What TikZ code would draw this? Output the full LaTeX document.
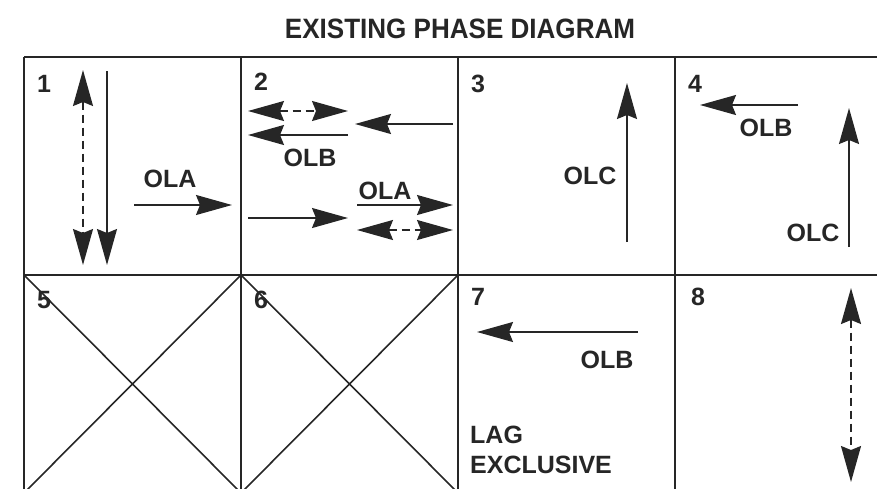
\documentclass[tikz,border=0pt]{standalone}
\usepackage{fontspec}
\setmainfont{Liberation Sans}
\usetikzlibrary{arrows.meta}
\begin{document}
\begin{tikzpicture}[x=1pt,y=-1pt,
  gridline/.style={line width=1.8pt,black!85},
  xline/.style={line width=1.6pt,black!85},
  tip/.tip={Stealth[length=36pt,width=20pt,inset=4pt]},
  arr/.style={line width=1.6pt,black!85,-tip},
  darr/.style={line width=1.6pt,black!85,dash pattern=on 8pt off 5pt,tip-tip},
  lbl/.style={inner sep=0pt,font=\bfseries\fontsize{25}{30}\selectfont,text=black!85},
  ttl/.style={inner sep=0pt,font=\bfseries\fontsize{28}{32}\selectfont,text=black!85,xscale=0.93,transform shape}]
\useasboundingbox (0,0) rectangle (877,488);
\clip (0,0) rectangle (877,488);
% title
\node[ttl,anchor=base] (title) at (460,38) {EXISTING PHASE DIAGRAM};
% grid
\draw[gridline] (24,57) -- (892,57);
\draw[gridline] (24,275) -- (892,275);
\draw[gridline] (24,493) -- (892,493);
\foreach \x in {24,241,458,675,892} \draw[gridline] (\x,57) -- (\x,493);
% crosses
\draw[xline] (24,275) -- (241,493) (241,275) -- (24,493);
\draw[xline] (241,275) -- (458,493) (458,275) -- (241,493);
% cell numbers
\node[lbl,anchor=base west] (n1) at (37,92) {1};
\node[lbl,anchor=base west] (n2) at (254,90) {2};
\node[lbl,anchor=base west] (n3) at (471,92) {3};
\node[lbl,anchor=base west] (n4) at (688,92) {4};
\node[lbl,anchor=base west] (n5) at (37,308) {5};
\node[lbl,anchor=base west] (n6) at (254,308) {6};
\node[lbl,anchor=base west] (n7) at (471,305) {7};
\node[lbl,anchor=base west] (n8) at (691,305) {8};
% labels
\node[lbl,anchor=base] (ola1) at (170,187) {OLA};
\node[lbl,anchor=base] (olb2) at (310,166) {OLB};
\node[lbl,anchor=base] (ola2) at (385,199) {OLA};
\node[lbl,anchor=base] (olc3) at (590,184) {OLC};
\node[lbl,anchor=base] (olb4) at (766,136) {OLB};
\node[lbl,anchor=base] (olc4) at (813,241) {OLC};
\node[lbl,anchor=base] (olb7) at (607,368) {OLB};
\node[lbl,anchor=base west] (lag) at (470,443) {LAG};
\node[lbl,anchor=base west] (excl) at (470,473) {EXCLUSIVE};
% arrow end points
\coordinate (a1s) at (83,70);   \coordinate (a1e) at (83,265);
\coordinate (b1s) at (107,71);  \coordinate (b1e) at (107,265);
\coordinate (c1s) at (134,205); \coordinate (c1e) at (232,205);
\coordinate (a2s) at (248,111); \coordinate (a2e) at (348,111);
\coordinate (b2s) at (348,135); \coordinate (b2e) at (248,135);
\coordinate (c2s) at (453,124); \coordinate (c2e) at (355,124);
\coordinate (d2s) at (357,205); \coordinate (d2e) at (453,205);
\coordinate (e2s) at (248,218); \coordinate (e2e) at (348,218);
\coordinate (f2s) at (357,230); \coordinate (f2e) at (453,230);
\coordinate (a3s) at (627,242); \coordinate (a3e) at (627,83);
\coordinate (a4s) at (798,105); \coordinate (a4e) at (700,105);
\coordinate (b4s) at (849,247); \coordinate (b4e) at (849,108);
\coordinate (a7s) at (638,332); \coordinate (a7e) at (477,332);
\coordinate (a8s) at (851,288); \coordinate (a8e) at (851,482);
% arrows
\draw[darr] (a1s) -- (a1e);
\draw[arr] (b1s) -- (b1e);
\draw[arr] (c1s) -- (c1e);
\draw[darr] (a2s) -- (a2e);
\draw[arr] (b2s) -- (b2e);
\draw[arr] (c2s) -- (c2e);
\draw[arr] (d2s) -- (d2e);
\draw[arr] (e2s) -- (e2e);
\draw[darr] (f2s) -- (f2e);
\draw[arr] (a3s) -- (a3e);
\draw[arr] (a4s) -- (a4e);
\draw[arr] (b4s) -- (b4e);
\draw[arr] (a7s) -- (a7e);
\draw[darr] (a8s) -- (a8e);
\end{tikzpicture}
\end{document}
